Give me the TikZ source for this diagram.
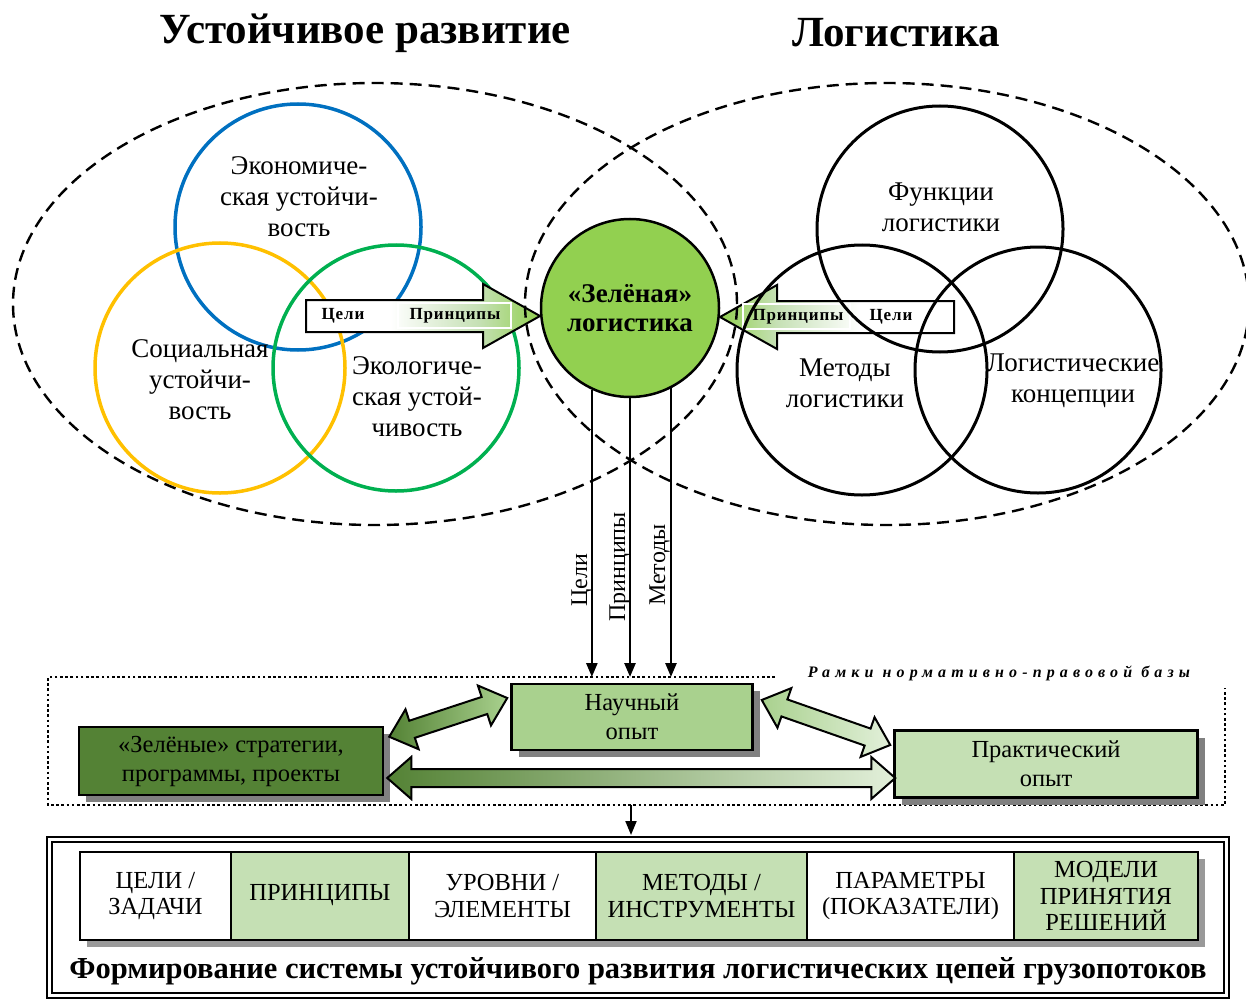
\documentclass[tikz,border=0pt]{standalone}
\usepackage{fontspec}
\setmainfont{Liberation Serif}
\newfontfamily\widefont[LetterSpace=32]{Liberation Serif}
\newfontfamily\tagfont[LetterSpace=5]{Liberation Serif}
\usetikzlibrary{arrows.meta,positioning,shadows,calc}

\definecolor{ringblue}{HTML}{0070C0}
\definecolor{ringyellow}{HTML}{FFC000}
\definecolor{ringgreen}{HTML}{00B050}
\definecolor{leafgreen}{HTML}{92D050}
\definecolor{darkgreen}{HTML}{548235}
\definecolor{midgreen}{HTML}{A9D18E}
\definecolor{palegreen}{HTML}{C5E0B4}

% fills of the two block arrows at the green circle
\pgfdeclarehorizontalshading{toright}{100bp}{color(0bp)=(white); color(43bp)=(white);
  color(62bp)=(palegreen); color(75bp)=(leafgreen); color(100bp)=(leafgreen)}
\pgfdeclarehorizontalshading{toleft}{100bp}{color(0bp)=(leafgreen); color(25bp)=(leafgreen);
  color(37bp)=(palegreen); color(55bp)=(white); color(100bp)=(white)}

% two-headed block arrow between two points
\newcommand{\dblarrow}[3]{%
  \shade[draw=black, line width=2pt, #3]
    let \p1=(#1), \p2=(#2), \n1={atan2(\y2-\y1,\x2-\x1)}, \n2={veclen(\x2-\x1,\y2-\y1)} in
    {[shift={(\p1)}, rotate=\n1]
     (0,0) -- (24,21) -- (24,9) -- (\n2-24,9) -- (\n2-24,21) -- (\n2,0)
     -- (\n2-24,-21) -- (\n2-24,-9) -- (24,-9) -- (24,-21) -- cycle};}

\begin{document}
\begin{tikzpicture}[x=1pt, y=-1pt,
  lbl/.style={align=center, font=\fontsize{27}{31}\selectfont, inner sep=0pt},
  ring/.style={circle, draw=#1, line width=3.5pt, minimum size=246pt, inner sep=0pt},
  halo/.style={draw, dash pattern=on 12pt off 7pt, line width=2.4pt},
  tag/.style={font=\tagfont\bfseries\fontsize{17}{19}\selectfont, inner sep=0pt},
  vlbl/.style={font=\fontsize{24}{28}\selectfont, inner sep=0pt, rotate=90, anchor=base},
  card/.style={draw, line width=2.5pt, align=center, font=\fontsize{24.5}{29}\selectfont,
               inner sep=2pt, drop shadow={shadow xshift=7pt, shadow yshift=-7pt, fill=black!50, opacity=1}},
  cell/.style={draw, line width=2.5pt, align=center, font=\fontsize{24.5}{26.5}\selectfont,
               minimum height=88pt, inner sep=0pt, outer sep=0pt,
               drop shadow={shadow xshift=7pt, shadow yshift=-7pt, fill=black!40, opacity=1}},
  down/.style={-{Triangle[length=14pt,width=11pt]}, line width=2.5pt}
]
\useasboundingbox (0,0) rectangle (1246,1000);

% headings
\node[font=\bfseries\fontsize{43}{46}\selectfont] (tsus) at (365,33) {Устойчивое развитие};
\node[font=\bfseries\fontsize{43}{46}\selectfont] (tlog) at (896,33) {Логистика};

% sustainability rings
\node[ring=ringblue] (econ) at (298,227) {};
\node[ring=ringyellow, minimum size=250pt] (soc) at (220,368) {};
\node[ring=ringgreen] (ecol) at (396,368) {};
\node[lbl] at (299,197) {Экономиче-\\ская устойчи-\\вость};
\node[lbl] at (200,380) {Социальная\\устойчи-\\вость};
\node[lbl] at (417,397) {Экологиче-\\ская устой-\\чивость};

% arrow into the green circle from the left
\coordinate (ltip) at (540,316);
\shade[shading=toright, draw, line width=2pt] (ltip) -- ++(-57,-32) -- ++(0,16) -- ++(-177,0)
  -- ++(0,32) -- ++(177,0) -- ++(0,16) -- cycle;
\draw[white, line width=1.5pt] (398,303) rectangle (511,328);
\node[tag] at (343,316) {Цели};
\node[tag] at (455,316) {Принципы};

% arrow into the green circle from the right
\coordinate (rtip) at (720,317);
\shade[shading=toleft, draw, line width=2pt] (rtip) -- ++(57,-32) -- ++(0,16) -- ++(177,0)
  -- ++(0,32) -- ++(-177,0) -- ++(0,16) -- cycle;
\draw[white, line width=1.5pt] (743,304) rectangle (850,329);
\node[tag] at (798,317) {Принципы};
\node[tag] at (891,317) {Цели};

% logistics rings
\node[ring=black, line width=3pt] (func) at (940,229) {};
\node[ring=black, line width=3pt, minimum size=250pt] (meth) at (862,370) {};
\node[ring=black, line width=3pt] (conc) at (1038,370) {};
\node[lbl] at (941,207) {Функции\\логистики};
\node[lbl] at (845,383) {Методы\\логистики};
\node[lbl] at (1073,381) {Логистические\\концепции};

% the two fields
\draw[halo] (375,304) ellipse [x radius=362pt, y radius=221pt];
\draw[halo] (887,304) ellipse [x radius=362pt, y radius=221pt];

\node[circle, draw, line width=2.5pt, fill=leafgreen, minimum size=178pt, align=center,
      font=\bfseries\fontsize{27}{29}\selectfont] (glog) at (630,308) {«Зелёная»\\логистика};

% goals, principles, methods
\coordinate (ftop) at (0,677);
\draw[down] (glog.-115) -- (glog.-115 |- ftop);
\draw[down] (glog.south) -- (glog.south |- ftop);
\draw[down] (glog.-63) -- (glog.-63 |- ftop);
\node[vlbl] at (587,580) {Цели};
\node[vlbl] at (625,567) {Принципы};
\node[vlbl] at (665,565) {Методы};

% legal frame
\draw[dash pattern=on 2.6pt off 2.6pt, line width=2.6pt]
  (775,677) -- (48,677) -- (48,805) -- (1225,805) -- (1225,688);
\node[font=\widefont\bfseries\itshape\fontsize{16}{18}\selectfont] (legal) at (999,673)
  {Рамки нормативно-правовой базы};

\node[card, fill=midgreen, minimum width=241pt, minimum height=66pt] (sci) at (632,717) {Научный\\опыт};
\node[card, fill=darkgreen, minimum width=304pt, minimum height=68pt] (strat) at (231,761)
  {«Зелёные» стратегии,\\программы, проекты};
\node[card, fill=palegreen, minimum width=303pt, minimum height=67pt] (prac) at (1046,764)
  {Практический\\опыт};

\coordinate (a1) at ($(strat.north east)+(5,11)$);
\coordinate (a2) at ($(sci.west)+(-3,-19)$);
\coordinate (b1) at ($(sci.east)+(8,-17)$);
\coordinate (b2) at ($(prac.west)+(-3,-19)$);
\coordinate (c1) at ($(strat.east)+(3,17)$);
\coordinate (c2) at ($(prac.west)+(2,14)$);
\dblarrow{a1}{a2}{left color=darkgreen, right color=midgreen}
\dblarrow{b1}{b2}{left color=midgreen, right color=palegreen!50!white}
\dblarrow{c1}{c2}{left color=darkgreen, right color=palegreen!50!white}

% resulting system
\node[draw, double, line width=2pt, double distance=3pt, minimum width=1177pt,
      minimum height=156pt, inner sep=0pt] (sysframe) at (637.5,917) {};
\coordinate (fbot) at (631,805);
\draw[down, line width=2pt, shorten >=3pt] (fbot) -- (fbot |- sysframe.north);

\node[cell, anchor=north west, minimum width=151pt, fill=white] (goals) at (80,852) {ЦЕЛИ /\\ЗАДАЧИ};
\node[cell, right=0pt of goals, minimum width=178pt, fill=palegreen] (princ) {\raisebox{8pt}{ПРИНЦИПЫ}};
\node[cell, right=0pt of princ, minimum width=187pt, fill=white] (levels) {УРОВНИ /\\ЭЛЕМЕНТЫ};
\node[cell, right=0pt of levels, minimum width=211pt, fill=palegreen] (tools) {МЕТОДЫ /\\ИНСТРУМЕНТЫ};
\node[cell, right=0pt of tools, minimum width=207pt, fill=white] (params) {ПАРАМЕТРЫ\\(ПОКАЗАТЕЛИ)};
\node[cell, right=0pt of params, minimum width=184pt, fill=palegreen] (models) {МОДЕЛИ\\ПРИНЯТИЯ\\РЕШЕНИЙ};

\node[font=\bfseries\fontsize{30.5}{32}\selectfont] (caption) at (638,971)
  {Формирование системы устойчивого развития логистических цепей грузопотоков};
\end{tikzpicture}
\end{document}
